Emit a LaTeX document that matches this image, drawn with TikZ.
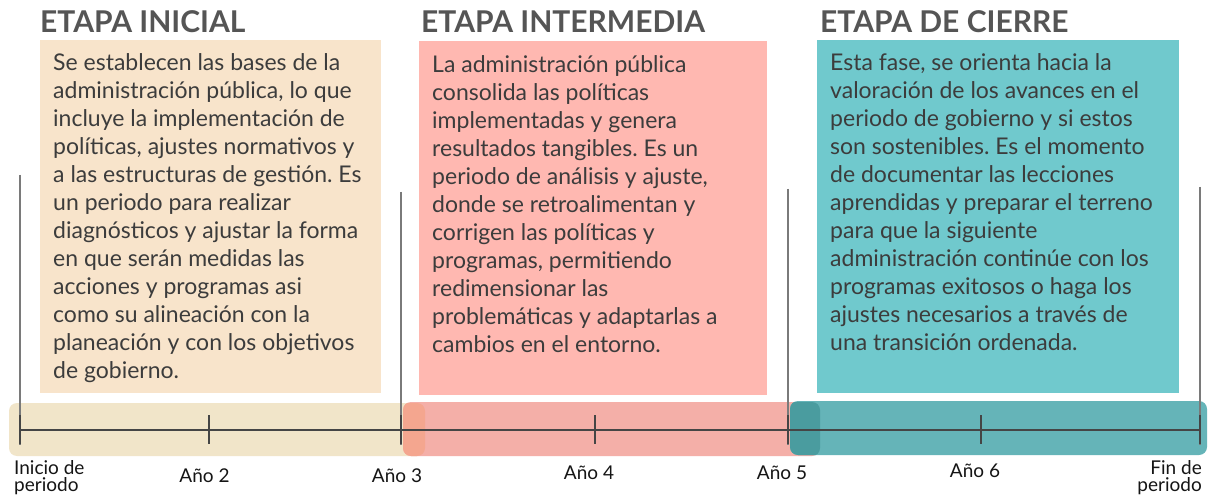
\documentclass[tikz,border=0pt]{standalone}
\usepackage{fontspec}
\setmainfont{Lato}
\frenchspacing
\definecolor{bxA}{HTML}{F8E4CB}
\definecolor{bxB}{HTML}{FFB8B1}
\definecolor{bxC}{HTML}{70C9CD}
\definecolor{bandA}{HTML}{F1E5C9}
\definecolor{bandB}{HTML}{F4AFA8}
\definecolor{bandC}{HTML}{65B4B8}
\definecolor{ovAB}{HTML}{F4A68F}
\definecolor{ovBC}{HTML}{4A9C9F}
\definecolor{ttl}{HTML}{555555}
\definecolor{txt}{HTML}{3C3C3C}
\definecolor{axiscol}{HTML}{454545}
\definecolor{vlinecol}{HTML}{7A7A7A}
\definecolor{lblcol}{HTML}{151515}
\begin{document}
\begin{tikzpicture}[x=1pt,y=-1pt,
  ttlstyle/.style={anchor=base west, inner sep=0, font=\bfseries\fontsize{30}{32}\selectfont, text=ttl},
  bodystyle/.style={anchor=north west, inner sep=0, align=left, font=\fontsize{23}{28}\selectfont, text=txt},
  yrlabel/.style={anchor=base, inner sep=0, font=\fontsize{19}{17}\selectfont, text=lblcol},
  endlabel/.style={inner sep=0, font=\fontsize{19}{17}\selectfont, text=lblcol},
  bandshape/.style={rounded corners=8pt},
  vlinestyle/.style={draw=vlinecol, line width=1.6pt},
  axisstyle/.style={draw=axiscol, line width=2pt},
  tickstyle/.style={draw=axiscol, line width=2pt}
]
\useasboundingbox (0,0) rectangle (1211,497);
\fill[white] (0,0) rectangle (1211,497);

% titles
\node[ttlstyle] (t1) at (40,33) {ETAPA INICIAL};
\node[ttlstyle] (t2) at (421,33) {ETAPA INTERMEDIA};
\node[ttlstyle] (t3) at (820,33) {ETAPA DE CIERRE};

% boxes
\fill[bxA] (40,40) rectangle (381,393);
\fill[bxB] (419,41) rectangle (767,395);
\fill[bxC] (817,40) rectangle (1179,393);

% texts
\node[bodystyle] (b1) at (53,47) {\rule{0pt}{23pt}Se establecen las bases de la\\
administración pública, lo que\\
incluye la implementación de\\
políticas, ajustes normativos y\\
a las estructuras de gestión. Es\\
un periodo para realizar\\
diagnósticos y ajustar la forma\\
en que serán medidas las\\
acciones y programas asi\\
como su alineación con la\\
planeación y con los objetivos\\
de gobierno.};

\node[bodystyle] (b2) at (432,49) {\rule{0pt}{23pt}La administración pública\\
consolida las políticas\\
implementadas y genera\\
resultados tangibles. Es un\\
periodo de análisis y ajuste,\\
donde se retroalimentan y\\
corrigen las políticas y\\
programas, permitiendo\\
redimensionar las\\
problemáticas y adaptarlas a\\
cambios en el entorno.};

\node[bodystyle] (b3) at (830,47) {\rule{0pt}{23pt}Esta fase, se orienta hacia la\\
valoración de los avances en el\\
periodo de gobierno y si estos\\
son sostenibles. Es el momento\\
de documentar las lecciones\\
aprendidas y preparar el terreno\\
para que la siguiente\\
administración continúe con los\\
programas exitosos o haga los\\
ajustes necesarios a través de\\
una transición ordenada.};

% bands
\fill[bandA, bandshape] (9,403) rectangle (425,456);
\fill[bandB, bandshape] (403,402) rectangle (820,456);
\begin{scope}
  \clip[bandshape] (9,403) rectangle (425,456);
  \fill[ovAB, bandshape] (403,402) rectangle (820,456);
\end{scope}
\fill[bandC, bandshape] (790,401) rectangle (1207,455);
\begin{scope}
  \clip[bandshape] (403,402) rectangle (820,456);
  \fill[ovBC, bandshape] (790,401) rectangle (1207,455);
\end{scope}

% axis coordinates
\coordinate (p0) at (20,430);
\coordinate (p1) at (209,430);
\coordinate (p2) at (401,430);
\coordinate (p3) at (595,430);
\coordinate (p4) at (788,430);
\coordinate (p5) at (981,430);
\coordinate (p6) at (1200,430);

% vertical separators
\coordinate (v0) at (20,175);
\coordinate (v2) at (401,192);
\coordinate (v4) at (788,189);
\coordinate (v6) at (1200,187);
\draw[vlinestyle] (v0) -- ([yshift=-15pt]p0);
\draw[vlinestyle] (v2) -- ([yshift=-15pt]p2);
\draw[vlinestyle] (v4) -- ([yshift=-15pt]p4);
\draw[vlinestyle] (v6) -- ([yshift=-15pt]p6);

% axis
\draw[axisstyle] (p0) -- (p6);
\foreach \p in {p0,p1,p2,p3,p4,p5,p6}{
  \draw[tickstyle] ([yshift=15pt]\p) -- ([yshift=-14pt]\p);
}

% labels
\node[endlabel, anchor=north west, align=left] (l0) at (14,459) {\rule{0pt}{15pt}Inicio de\\periodo};
\node[yrlabel] (l1) at (204.5,482) {Año 2};
\node[yrlabel] (l2) at (397,482) {Año 3};
\node[yrlabel] (l3) at (589,479) {Año 4};
\node[yrlabel] (l4) at (782,479) {Año 5};
\node[yrlabel] (l5) at (975,477) {Año 6};
\node[endlabel, anchor=north east, align=right] (l6) at (1202,459) {\rule{0pt}{15pt}Fin de\\periodo};
\end{tikzpicture}
\end{document}
